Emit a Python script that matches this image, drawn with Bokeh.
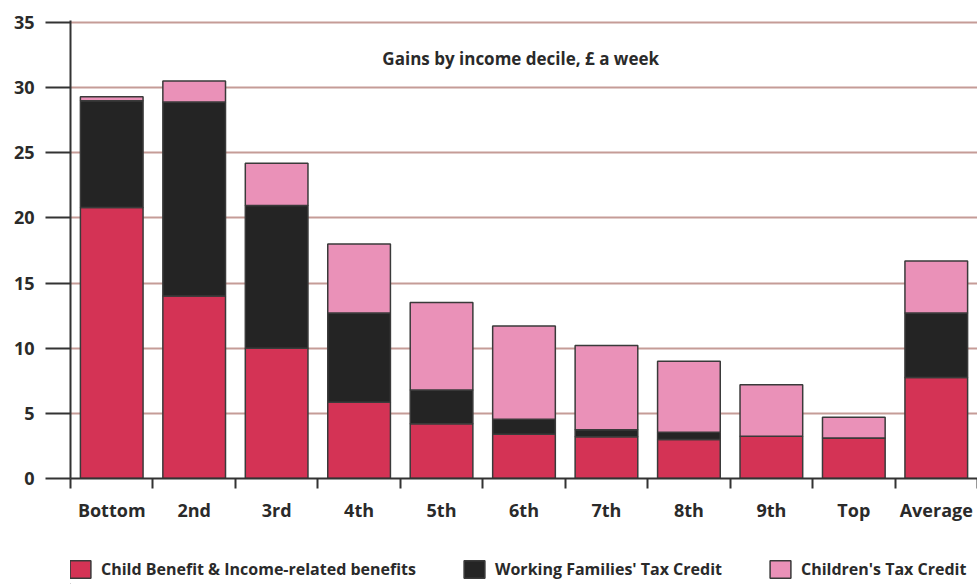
from bokeh.plotting import figure
from bokeh.layouts import column
from bokeh.models import ColumnDataSource, Range1d, FixedTicker, Label, Legend
from bokeh.embed import file_html
from bokeh.resources import INLINE

categories = ["Bottom", "2nd", "3rd", "4th", "5th", "6th", "7th", "8th", "9th", "Top", "Average"]
child_benefit = [20.8, 14.0, 10.0, 5.85, 4.2, 3.4, 3.2, 3.0, 3.25, 3.1, 7.75]
wftc = [8.2, 14.9, 10.95, 6.85, 2.6, 1.15, 0.55, 0.55, 0.0, 0.0, 4.95]
ctc = [0.3, 1.6, 3.25, 5.3, 6.7, 7.15, 6.45, 5.45, 3.95, 1.6, 4.0]
y_ticks = [0, 5, 10, 15, 20, 25, 30, 35]
series_names = ["Child Benefit & Income-related benefits", "Working Families' Tax Credit", "Children's Tax Credit"]
title_text = "Gains by income decile, \u00a3 a week"

FONT = "Open Sans"
RED = "#d43355"
BLACK = "#242424"
PINK = "#ea91b8"
GRID = "#c59c97"
AXIS = "#333333"
TEXT = "#2a2a2a"
colors = [RED, BLACK, PINK]

xs = [i + 0.5 for i in range(len(categories))]
source = ColumnDataSource(dict(x=xs, cb=child_benefit, wftc=wftc, ctc=ctc))

p = figure(width=977, height=540, output_backend="svg", toolbar_location=None,
           x_range=Range1d(0, 11), y_range=Range1d(0, 35.15),
           min_border_left=70, min_border_right=0, min_border_top=20, min_border_bottom=62)
p.outline_line_color = None

p.vbar_stack(["cb", "wftc", "ctc"], x="x", width=0.76, source=source,
             color=colors, line_color="#3a3a3a", line_width=1.5)

# x axis: labels at centres, ticks at category boundaries
xa = p.xaxis[0]
xa.ticker = FixedTicker(ticks=xs, minor_ticks=list(range(len(categories) + 1)))
xa.major_label_overrides = {x: c for x, c in zip(xs, categories)}
xa.major_tick_line_color = None
xa.major_tick_out = 0
xa.major_tick_in = 0
xa.minor_tick_out = 10
xa.minor_tick_in = 0
xa.minor_tick_line_color = AXIS
xa.minor_tick_line_width = 2
xa.axis_line_color = AXIS
xa.axis_line_width = 2
xa.major_label_standoff = 9
xa.major_label_text_font = FONT
xa.major_label_text_font_style = "bold"
xa.major_label_text_font_size = "18px"
xa.major_label_text_color = TEXT

ya = p.yaxis[0]
ya.ticker = FixedTicker(ticks=y_ticks, minor_ticks=[])
ya.major_tick_out = 25
ya.major_tick_in = 0
ya.major_tick_line_color = AXIS
ya.major_tick_line_width = 2
ya.axis_line_color = AXIS
ya.axis_line_width = 2
ya.major_label_standoff = 11
ya.major_label_text_font = FONT
ya.major_label_text_font_style = "bold"
ya.major_label_text_font_size = "18px"
ya.major_label_text_color = TEXT

p.xgrid.grid_line_color = None
p.ygrid.ticker = FixedTicker(ticks=y_ticks[1:])
p.ygrid.grid_line_color = GRID
p.ygrid.grid_line_width = 2

p.add_layout(Label(x=5.46, y=32.2, text=title_text, text_align="center", text_baseline="middle",
                   text_font=FONT, text_font_style="bold", text_font_size="17px",
                   text_color=TEXT))

# legend strip below the chart (swatch renderers sit outside the visible range)
pl = figure(width=977, height=44, output_backend="svg", toolbar_location=None,
            x_range=Range1d(0, 1), y_range=Range1d(0, 1),
            min_border_left=0, min_border_right=0, min_border_top=0, min_border_bottom=0)
pl.axis.visible = False
pl.grid.grid_line_color = None
pl.outline_line_color = None
swatch = ColumnDataSource(dict(x=[-5.0], bottom=[-5.0], top=[-4.0]))
swatches = [pl.vbar(x="x", bottom="bottom", top="top", width=0.1, source=swatch, fill_color=c,
                    line_color="#3a3a3a", line_width=1.5) for c in colors]

legend = Legend(items=[(n, [r]) for n, r in zip(series_names, swatches)],
                orientation="horizontal", location=(-3, 4),
                glyph_width=26, glyph_height=22, label_standoff=8, spacing=45,
                padding=0, margin=0, border_line_color=None, background_fill_alpha=0,
                label_text_font=FONT, label_text_font_style="bold",
                label_text_font_size="16px", label_text_color=TEXT)
pl.add_layout(legend, "center")

layout = column(p, pl, spacing=0)
open("out.html", "w").write(file_html(layout, INLINE))
